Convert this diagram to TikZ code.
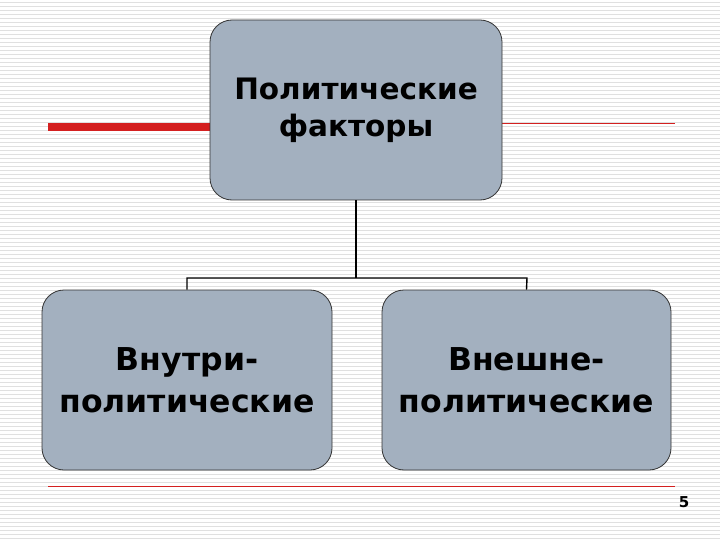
\documentclass[tikz,border=0pt]{standalone}
\usepackage{fontspec}
\setmainfont{DejaVu Sans}
\definecolor{boxfill}{HTML}{A3B0BF}
\definecolor{redl}{HTML}{D42020}
\begin{document}
\begin{tikzpicture}[x=1pt,y=-1pt,
  box/.style={draw=black!80,line width=0.8pt,fill=boxfill,rounded corners=22pt,minimum width=290pt,minimum height=180pt,align=center,inner sep=0pt},
  conn/.style={draw=black,line width=1.4pt}]
\useasboundingbox (0,0) rectangle (720,540);
\fill[white] (0,0) rectangle (720,540);
\foreach \y in {2,6,...,538} \draw[black!12,line width=0.9pt] (0,\y) -- (720,\y);
\draw[redl,line width=8pt] (48,127) -- (212,127);
\draw[redl,line width=1pt] (500,124) -- (675,124);
\draw[redl,line width=1pt] (48,486) -- (675,486);
\node[box,minimum width=292pt,font=\fontsize{29.5}{37}\selectfont\bfseries] (top) at (356,110) {Политические\\факторы};
\node[box,font=\fontsize{31.5}{42}\selectfont\bfseries] (l) at (187,380) {Внутри-\\политические};
\node[box,minimum width=289pt,font=\fontsize{31.5}{42}\selectfont\bfseries] (r) at (526.5,380) {Внешне-\\политические};
\coordinate (j) at (356,278);
\draw[conn] (top.south) -- (j);
\draw[conn] (l.north) -- (187,278) -- (527,278) -- (r.north);
\node[font=\fontsize{15}{17}\selectfont\bfseries] (p) at (684,502) {5};
\end{tikzpicture}
\end{document}
